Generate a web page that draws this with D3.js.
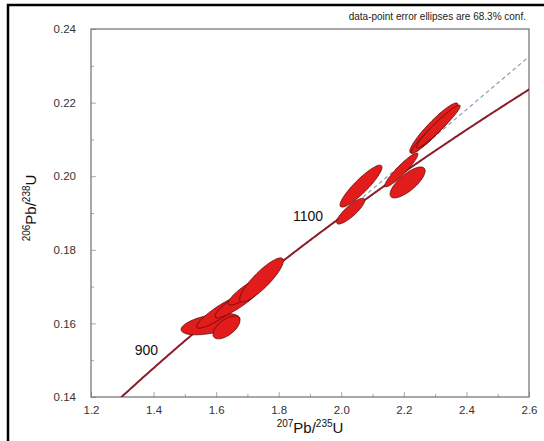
<!DOCTYPE html>
<html><head><meta charset="utf-8">
<script src="https://cdn.jsdelivr.net/npm/d3@7"></script>
<style>
html,body{margin:0;padding:0;background:#fff;}
svg{display:block;font-family:"Liberation Sans",Arial,sans-serif;}
</style></head>
<body>
<svg id="c" width="544" height="441"></svg>
<script>
// ---- data ----
const xTicks = [1.2, 1.4, 1.6, 1.8, 2.0, 2.2, 2.4, 2.6];
const yTicks = [0.14, 0.16, 0.18, 0.20, 0.22, 0.24];
const xMinorTicks = [1.3, 1.5, 1.7, 1.9, 2.1, 2.3, 2.5];
const yMinorTicks = [0.15, 0.17, 0.19, 0.21, 0.23];
// error ellipses: centre, half-extent in x and y, correlation
const ellX   = [1.582, 1.633, 1.615, 1.671, 1.705, 1.745, 2.030, 2.063, 2.212, 2.192, 2.296, 2.283, 2.310];
const ellY   = [0.1598, 0.1589, 0.1632, 0.1660, 0.1691, 0.1718, 0.1905, 0.1973, 0.1983, 0.2017, 0.2131, 0.2112, 0.2135];
const ellSX  = [0.094, 0.043, 0.077, 0.075, 0.067, 0.070, 0.045, 0.067, 0.056, 0.053, 0.077, 0.060, 0.070];
const ellSY  = [0.0029, 0.0031, 0.0045, 0.0045, 0.0041, 0.0060, 0.0035, 0.0057, 0.0042, 0.0046, 0.0068, 0.0050, 0.0058];
const ellRho = [0.5, 0.6, 0.9, 0.9, 0.88, 0.87, 0.85, 0.9, 0.75, 0.93, 0.93, 0.95, 0.96];
// age labels on concordia (Ma)
const ageLabels = [900, 1100];
// discordia (dashed) line end points
const discX = [1.95, 2.6];
const discY = [0.1857, 0.2325];
// decay constants (1/Ma)
const lambda238 = 1.55125e-4;
const lambda235 = 9.8485e-4;

// ---- layout ----
const svg = d3.select("#c");
const L = 91, R = 529, T = 29, B = 397;
const x = d3.scaleLinear().domain([1.2, 2.6]).range([L, R]);
const y = d3.scaleLinear().domain([0.14, 0.24]).range([B, T]);

// outer frame
svg.append("rect").attr("x", 8).attr("y", 5).attr("width", 700).attr("height", 700)
  .attr("fill", "none").attr("stroke", "#000").attr("stroke-width", 2.5);

svg.append("defs").append("clipPath").attr("id", "clip")
  .append("rect").attr("x", L).attr("y", T).attr("width", R - L).attr("height", B - T);

// title note
svg.append("text").attr("x", 526).attr("y", 20).attr("text-anchor", "end")
  .attr("font-size", 10).attr("fill", "#222").text("data-point error ellipses are 68.3% conf.");

// axes ticks (inside)
const axB = d3.axisBottom(x).tickValues(xTicks).tickSize(-5).tickPadding(9).tickFormat(d3.format(".1f"));
const gx = svg.append("g").attr("transform", `translate(0,${B})`).call(axB);
const axL = d3.axisLeft(y).tickValues(yTicks).tickSize(-5).tickPadding(15).tickFormat(d3.format(".2f"));
const gy = svg.append("g").attr("transform", `translate(${L},0)`).call(axL);
const gxm = svg.append("g").attr("transform", `translate(0,${B})`)
  .call(d3.axisBottom(x).tickValues(xMinorTicks).tickSize(-3).tickFormat(""));
const gym = svg.append("g").attr("transform", `translate(${L},0)`)
  .call(d3.axisLeft(y).tickValues(yMinorTicks).tickSize(-3).tickFormat(""));
[gx, gy, gxm, gym].forEach(g => {
  g.select(".domain").remove();
  g.selectAll(".tick line").attr("stroke", "#aaa");
  g.selectAll("text").attr("font-size", 11.5).attr("fill", "#333")
    .attr("font-family", "'Liberation Sans',Arial,sans-serif");
});

// frame
svg.append("rect").attr("x", L).attr("y", T).attr("width", R - L).attr("height", B - T)
  .attr("fill", "none").attr("stroke", "#6f6f6f").attr("stroke-width", 1.2);

const plot = svg.append("g").attr("clip-path", "url(#clip)");

// discordia dashed line
plot.append("line")
  .attr("x1", x(discX[0])).attr("y1", y(discY[0]))
  .attr("x2", x(discX[1])).attr("y2", y(discY[1]))
  .attr("stroke", "#8d9db5").attr("stroke-width", 1.2).attr("stroke-dasharray", "4,3");

// concordia
const ages = d3.range(800, 1330, 2);
const conc = ages.map(t => [Math.exp(lambda235 * t) - 1, Math.exp(lambda238 * t) - 1]);
plot.append("path").attr("d", d3.line().x(d => x(d[0])).y(d => y(d[1]))(conc))
  .attr("fill", "none").attr("stroke", "#8a1c2a").attr("stroke-width", 2);

// ellipses
const ellipsePts = i => {
  const pts = [];
  const s = Math.sqrt(1 - ellRho[i] * ellRho[i]);
  for (let k = 0; k <= 80; k++) {
    const th = k / 80 * 2 * Math.PI;
    pts.push([ellX[i] + ellSX[i] * Math.cos(th),
              ellY[i] + ellSY[i] * (ellRho[i] * Math.cos(th) + s * Math.sin(th))]);
  }
  return pts;
};
plot.selectAll("path.ell").data(d3.range(ellX.length)).enter().append("path")
  .attr("class", "ell")
  .attr("d", i => d3.line().x(d => x(d[0])).y(d => y(d[1]))(ellipsePts(i)) + "Z")
  .attr("fill", "#e21b1b").attr("stroke", "#5e0b0b").attr("stroke-width", 0.8);

// age labels
const ageLabelPos = { 900: [-27, -6], 1100: [-34, -6] };
ageLabels.forEach(a => {
  const px = x(Math.exp(lambda235 * a) - 1), py = y(Math.exp(lambda238 * a) - 1);
  svg.append("text").attr("x", px + ageLabelPos[a][0]).attr("y", py + ageLabelPos[a][1])
    .attr("text-anchor", "start").attr("font-size", 14).attr("fill", "#111").text(a);
});

// axis titles
const xt = svg.append("text").attr("x", 310).attr("y", 433).attr("text-anchor", "middle")
  .attr("font-size", 15).attr("fill", "#111");
xt.append("tspan").attr("font-size", 10).attr("dy", -6).text("207");
xt.append("tspan").attr("dy", 6).text("Pb/");
xt.append("tspan").attr("font-size", 10).attr("dy", -6).text("235");
xt.append("tspan").attr("dy", 6).text("U");

const yt = svg.append("text").attr("transform", "translate(36,208) rotate(-90)")
  .attr("text-anchor", "middle").attr("font-size", 15).attr("fill", "#111");
yt.append("tspan").attr("font-size", 10).attr("dy", -6).text("206");
yt.append("tspan").attr("dy", 6).text("Pb/");
yt.append("tspan").attr("font-size", 10).attr("dy", -6).text("238");
yt.append("tspan").attr("dy", 6).text("U");
</script>
</body></html>
